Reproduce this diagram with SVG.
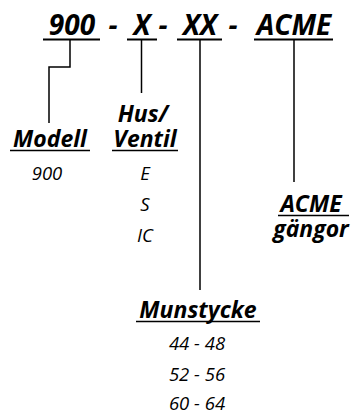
<svg xmlns="http://www.w3.org/2000/svg" width="357" height="414" viewBox="0 0 357 414">
<style>
.t{font-family:"Open Sans","Noto Sans","DejaVu Sans",sans-serif;font-style:italic;fill:#000}
.h{font-weight:bold;font-size:28px}
.l{font-weight:bold;font-size:23px}
.v{font-size:18.5px}
.u{stroke:#000;stroke-width:2;fill:none}
.c{stroke:#000;stroke-width:1.5;fill:none}
</style>
<rect width="357" height="414" fill="#fff"/>
<g id="code">
<text class="t h" x="72" y="35" text-anchor="middle">900</text>
<text class="t h" x="113" y="35" text-anchor="middle">-</text>
<text class="t h" x="142" y="35" text-anchor="middle">X</text>
<text class="t h" x="163" y="35" text-anchor="middle">-</text>
<text class="t h" x="200" y="35" text-anchor="middle">XX</text>
<text class="t h" x="233" y="35" text-anchor="middle">-</text>
<text class="t h" x="294" y="35" text-anchor="middle">ACME</text>
<line class="u" x1="43" y1="39.5" x2="100" y2="39.5"/>
<line class="u" x1="127" y1="39.5" x2="157" y2="39.5"/>
<line class="u" x1="177" y1="39.5" x2="222" y2="39.5"/>
<line class="u" x1="254" y1="39.5" x2="333" y2="39.5"/>
</g>
<g id="connectors">
<polyline class="c" points="70,40 70,67 49,67 49,123"/>
<line class="c" x1="141.5" y1="40" x2="141.5" y2="93"/>
<line class="c" x1="200" y1="40" x2="200" y2="290"/>
<line class="c" x1="294" y1="40" x2="294" y2="182"/>
</g>
<g id="modell">
<text class="t l" x="50" y="147" text-anchor="middle">Modell</text>
<line class="c" x1="10" y1="150.5" x2="90" y2="150.5"/>
<text class="t v" x="47" y="180" text-anchor="middle">900</text>
</g>
<g id="husventil">
<text class="t l" x="143" y="122" text-anchor="middle">Hus/</text>
<text class="t l" x="145" y="147" text-anchor="middle">Ventil</text>
<line class="c" x1="112" y1="150.5" x2="178" y2="150.5"/>
<text class="t v" x="145" y="180" text-anchor="middle">E</text>
<text class="t v" x="145" y="211" text-anchor="middle">S</text>
<text class="t v" x="145" y="242" text-anchor="middle">IC</text>
</g>
<g id="acme">
<text class="t l" x="311" y="212" text-anchor="middle">ACME</text>
<line class="c" x1="278" y1="215.5" x2="349" y2="215.5"/>
<text class="t l" x="311" y="237" text-anchor="middle">gängor</text>
</g>
<g id="munstycke">
<text class="t l" x="198" y="318" text-anchor="middle">Munstycke</text>
<line class="c" x1="136" y1="321.5" x2="260" y2="321.5"/>
<text class="t v" x="197" y="350" text-anchor="middle">44 - 48</text>
<text class="t v" x="197" y="381" text-anchor="middle">52 - 56</text>
<text class="t v" x="197" y="410" text-anchor="middle">60 - 64</text>
</g>
</svg>
